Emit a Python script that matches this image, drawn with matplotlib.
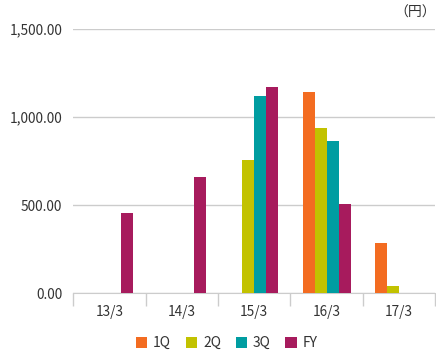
import matplotlib.pyplot as plt
import numpy as np
from matplotlib.ticker import FuncFormatter

plt.rcParams["font.family"] = ["Noto Sans CJK JP", "DejaVu Sans"]

# ==========================================================
# DATA
# ==========================================================
periods = ["13/3", "14/3", "15/3", "16/3", "17/3"]
series_names = ["1Q", "2Q", "3Q", "FY"]
q1_values = [np.nan, np.nan, np.nan, 1144, 288]
q2_values = [np.nan, np.nan, 757, 939, 41]
q3_values = [np.nan, np.nan, 1121, 865, np.nan]
fy_values = [456, 661, 1172, 507, np.nan]
colors = ["#F36C21", "#C2C200", "#009DA1", "#A71B5D"]

# ==========================================================
# PLOT
# ==========================================================
fig = plt.figure(figsize=(4.36, 3.6), dpi=100)
ax = fig.add_axes([0.168, 0.185, 0.83, 0.734])

x = np.arange(len(periods))
bar_width = 0.166
all_series = [q1_values, q2_values, q3_values, fy_values]
for i, (name, values, color) in enumerate(zip(series_names, all_series, colors)):
    offset = (i - 1.5) * bar_width
    ax.bar(x + offset, values, width=bar_width, color=color, label=name, zorder=3)

ax.set_xlim(-0.5, len(periods) - 0.5)
ax.set_ylim(0, 1500)
ax.set_yticks([0, 500, 1000, 1500])
ax.yaxis.set_major_formatter(FuncFormatter(lambda v, _: f"{v:,.2f}"))
ax.grid(axis="y", color="#cccccc", linewidth=1, zorder=0)

ax.set_xticks(x)
ax.set_xticklabels(periods)
ax.set_xticks(np.arange(len(periods) + 1) - 0.5, minor=True)
ax.tick_params(axis="x", which="major", length=0, pad=8, labelsize=9.8, colors="#333333")
ax.tick_params(axis="x", which="minor", length=9, width=1, color="#cccccc")
ax.tick_params(axis="y", length=0, pad=8, labelsize=9.8, colors="#333333")

for side in ["top", "right", "left"]:
    ax.spines[side].set_visible(False)
ax.spines["bottom"].set_color("#cccccc")

fig.text(1.0, 0.965, "（円）", ha="right", va="center", fontsize=10, color="#333333")

fig.legend(
    loc="center",
    bbox_to_anchor=(0.52, 0.047),
    ncol=4,
    frameon=False,
    fontsize=10,
    handlelength=0.85,
    handleheight=0.85,
    handletextpad=0.4,
    columnspacing=1.05,
    labelcolor="#333333",
)

fig.savefig("out.png", dpi=100)
plt.close(fig)
